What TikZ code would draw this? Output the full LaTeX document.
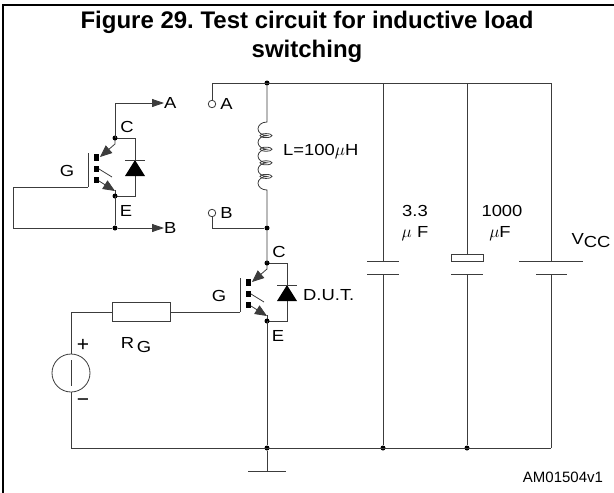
\documentclass[tikz,border=0pt]{standalone}
\usepackage{fontspec}
\setmainfont{Liberation Sans}
\newfontfamily\ckfont[FakeStretch=1.15]{Liberation Sans}
\usepackage{tikz}
\usetikzlibrary{positioning, calc, arrows.meta}
\definecolor{ckWire}{RGB}{60, 60, 60}
\definecolor{ckText}{RGB}{0, 0, 0}
\frenchspacing
\tikzset{
    wire/.style={
        line width=0.8pt,
        color=ckWire
    },
    flow/.style={
        wire,
        -{Triangle[length=12pt, width=8pt]}
    },
    tip/.style={
        wire,
        -{Triangle[length=12pt, width=10pt]}
    },
    junction/.style={
        circle,
        fill=ckText,
        inner sep=0pt,
        minimum size=5pt
    },
    terminal/.style={
        circle,
        draw=ckWire,
        line width=0.8pt,
        fill=white,
        inner sep=0pt,
        minimum size=7.5pt
    },
    resistor/.style={
        rectangle,
        draw=ckWire,
        line width=0.8pt,
        minimum width=58pt,
        minimum height=19pt,
        inner sep=0pt
    },
    source/.style={
        circle,
        draw=ckWire,
        line width=0.8pt,
        minimum size=38pt,
        inner sep=0pt
    },
    label/.style={
        font=\ckfont\fontsize{16}{18}\selectfont,
        text=ckText,
        inner sep=0pt
    },
    sign/.style={
        font=\fontsize{21}{21}\selectfont,
        text=ckText,
        inner sep=0pt
    }
}

\begin{document}
\begin{tikzpicture}[x=1pt, y=-1pt]
  \useasboundingbox (0,0) rectangle (614,493);

  % Frame and title
  \draw[line width=2pt] (3,493) -- (3,5) -- (614,5);
  \node[font=\fontsize{24}{29}\selectfont\bfseries, align=center] (title) at (307,37)
    {Figure 29. Test circuit for inductive load\\switching};

  % IGBTs
  \foreach \n/\cx/\cy in {q1/115/138, q2/267/263} {
    \begin{scope}[shift={(\cx,\cy)}]
      \coordinate (\n-c) at (0,0);
      \coordinate (\n-e) at (0,58);
      \coordinate (\n-g) at (-27,49);
      \draw[wire] (-27,15) -- (\n-g);
      \fill[ckText] (-21,16) rectangle (-16,23);
      \fill[ckText] (-21,28) rectangle (-16,34);
      \fill[ckText] (-21,39) rectangle (-16,45);
      \draw[tip] (\n-c) -- (0,6) -- (-15,19);
      \draw[wire] (-16,31) -- (-3,39);
      \draw[tip] (-16,43) -- (0,53);
      \draw[wire] (0,52) -- (\n-e);
      \draw[wire] (\n-c) -- (20,0) -- (20,58) -- (\n-e);
      \fill[ckText] (10,38) -- (30,38) -- (20,22) -- cycle;
      \draw[wire] (10,22) -- (30,22);
      \node[junction] at (\n-c) {};
      \node[junction] at (\n-e) {};
      \node[label] (\n-lc) at (12,-11) {C};
      \node[label] (\n-le) at (11,73) {E};
      \node[label] (\n-lg) at (-48,33) {G};
    \end{scope}
  }

  % Left switch with outputs
  \node[label, right=0pt] (labA) at (164,103) {A};
  \node[label, right=0pt] (labB) at (164,228) {B};
  \node[junction] (q1-j) at (115,228) {};
  \coordinate (q1-k) at (13,228);
  \draw[flow] (q1-c) |- (labA.west);
  \draw[flow] (q1-e) -- (q1-j) -- (labB.west);
  \draw[wire] (q1-g) -| (q1-k) -- (q1-j);

  % Terminals and load
  \node[terminal] (ta) at (212,104) {};
  \node[terminal] (tb) at (212,213) {};
  \node[label, right=4pt of ta] (labTa) {A};
  \node[label, right=4pt of tb] (labTb) {B};
  \node[junction] (top) at (267,83) {};
  \node[junction] (mid) at (267,228) {};
  \coordinate (ltop) at (267,122);
  \coordinate (lbot) at (267,190);
  \coordinate (vt) at (551,83);
  \draw[wire] (ta.north) |- (vt);
  \draw[wire] (tb.south) |- (mid);
  \draw[wire] (top) -- (ltop)
    \foreach \k in {1,...,5} { arc[start angle=270, end angle=90, x radius=9, y radius=6.8] }
    -- (mid) -- (q2-c);
  \foreach \yy in {135.6, 149.2, 162.8, 176.4}
    \draw[wire] (266,\yy) ellipse[x radius=6, y radius=2];
  \node[label, right] (labL) at (283,152) {L=100$\mu$H};

  % Gate drive
  \node[resistor] (rg) at (141,312) {};
  \node[source] (vs) at (71,373) {};
  \draw[wire] (71,360) -- (71,386);
  \draw[wire] (vs.north) |- (rg.west);
  \draw[wire] (rg.east) -- (q2-g);
  \node[label] (labR) at (136,345) {R\raisebox{-4pt}{\,G}};
  \node[sign] (labP) at (83,345) {+};
  \node[sign] (labM) at (83,403) {−};

  % Capacitors and supply
  \coordinate (c1t) at (383,83);
  \coordinate (c1p) at (383,261);
  \coordinate (c1n) at (383,274);
  \coordinate (c2t) at (467,83);
  \coordinate (c2p) at (467,254);
  \coordinate (c2n) at (467,274);
  \coordinate (vp) at (551,261);
  \coordinate (vn) at (551,274);
  \coordinate (vb) at (551,448);
  \node[junction] (gnd) at (267,448) {};
  \node[junction] (c1b) at (383,448) {};
  \node[junction] (c2b) at (467,448) {};
  \draw[wire] (c1t) -- (c1p);
  \draw[wire] (c1n) -- (c1b);
  \draw[wire] (367,261) -- (399,261);
  \draw[wire] (367,274) -- (399,274);
  \draw[wire] (c2t) -- (c2p);
  \draw[wire] (c2n) -- (c2b);
  \draw[wire, fill=white] (451,254) rectangle (483,261);
  \draw[wire] (451,274) -- (483,274);
  \draw[wire] (vt) -- (vp);
  \draw[wire] (vn) -- (vb);
  \draw[wire] (519,261) -- (583,261);
  \draw[wire] (536,274) -- (567,274);
  \draw[wire] (vs.south) |- (vb);
  \draw[wire] (q2-e) -- (gnd);
  \node[label] (lab33) at (415,211) {3.3};
  \node[label] (labuF1) at (415,234) {$\mu$ F};
  \node[label] (lab1000) at (502,211) {1000};
  \node[label] (labuF2) at (500,234) {$\mu$F};
  \node[label] (labV) at (591,241) {V\raisebox{-3pt}{CC}};

  % Ground
  \coordinate (gndt) at (267,471);
  \draw[wire] (gnd) -- (gndt);
  \draw[wire] (248,471) -- (286,471);

  % Labels
  \node[label, right] (labD) at (303,295) {D.U.T.};
  \node[label, font=\fontsize{15}{17}\selectfont] (labId) at (563,477) {AM01504v1};

\end{tikzpicture}
\end{document}
